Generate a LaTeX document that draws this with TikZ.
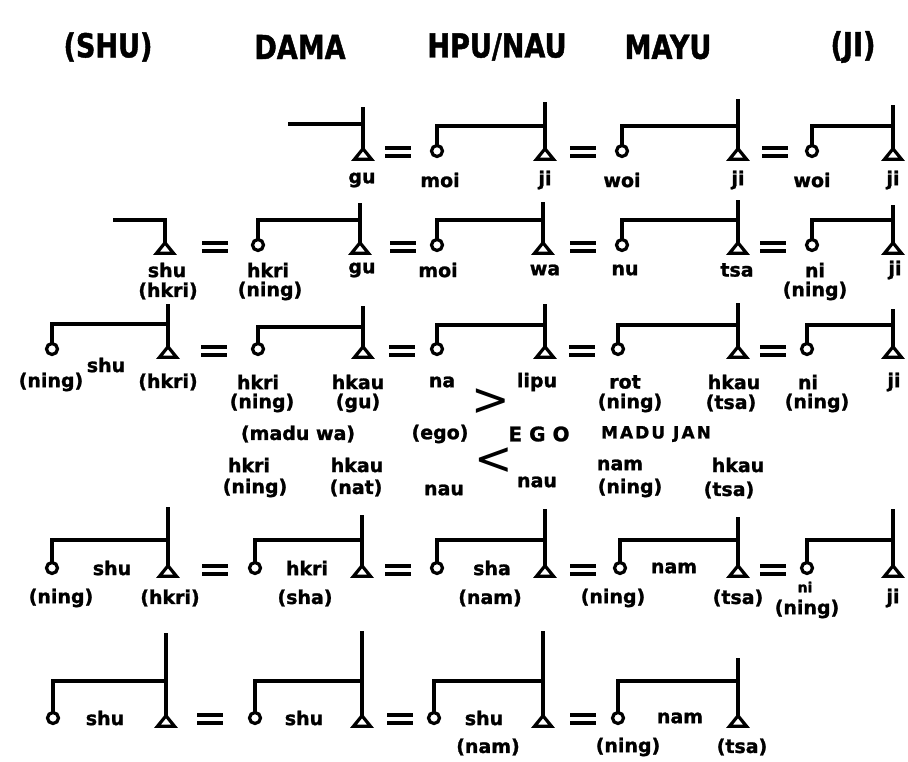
\documentclass[tikz,border=0pt]{standalone}
\usepackage{fontspec}
\setmainfont{DejaVu Sans}[BoldFeatures={FakeBold=1.3}]
\newfontfamily\headfont{DejaVu Sans}[FakeStretch=0.82,BoldFeatures={FakeBold=1.3}]
\newfontfamily\symfont{DejaVu Sans}[BoldFeatures={FakeBold=1.2}]
\usetikzlibrary{shapes.geometric}
\begin{document}
\begin{tikzpicture}[x=1pt,y=-1pt,
  fem/.style={circle,draw,line width=3.2pt,minimum size=11pt,inner sep=0pt,outer sep=0pt},
  male/.style={rectangle,minimum width=17pt,minimum height=10.5pt,inner sep=0pt,outer sep=0pt,
    append after command={\pgfextra{\draw[line width=3.2pt,line join=miter]
      (\tikzlastnode.north) -- (\tikzlastnode.south east) -- (\tikzlastnode.south west) -- cycle;}}},
  lab/.style={font=\fontsize{19}{19}\selectfont\bfseries,inner sep=0pt},
  tiny/.style={font=\fontsize{14}{14}\selectfont\bfseries,inner sep=0pt},
  head/.style={font=\headfont\fontsize{33}{33}\selectfont\bfseries,inner sep=0pt},
  link/.style={line width=3.3pt},
  eq/.pic={\draw[line width=3.6pt] (-13,-3.8)--(13,-3.8) (-13,3.8)--(13,3.8);},
  angl/.style={font=\symfont\fontsize{46}{46}\selectfont,inner sep=0pt},
  capl/.style={font=\symfont\bfseries\fontsize{17}{17}\selectfont\addfontfeature{LetterSpace=12},inner sep=0pt},
  egol/.style={font=\symfont\bfseries\fontsize{20}{20}\selectfont\addfontfeature{LetterSpace=35},inner sep=0pt},
]
\useasboundingbox (0,0) rectangle (908,762);
% header
\node[head] (h1) at (108,47) {(SHU)};
\node[head] (h2) at (300,47) {DAMA};
\node[head] (h3) at (497,47) {HPU/NAU};
\node[head] (h4) at (668,47) {MAYU};
\node[head] (h5) at (853,47) {(JI)};

% ---------- row 1
\node[male] (a1) at (363,154) {};
\node[fem]  (a2) at (437,151) {};
\node[male] (a3) at (545,154) {};
\node[fem]  (a4) at (622,151) {};
\node[male] (a5) at (738,154) {};
\node[fem]  (a6) at (812,151) {};
\node[male] (a7) at (893,154) {};
\coordinate (a0) at (288,124);
\draw[link] (a0) -- (a0 -| a1.north);
\draw[link] (a1.north) -- (a1.north |- 0,107);
\draw[link] (a2.north) |- (a3.north |- 0,126);
\draw[link] (a3.north) -- (a3.north |- 0,102);
\draw[link] (a4.north) |- (a5.north |- 0,126);
\draw[link] (a5.north) -- (a5.north |- 0,99);
\draw[link] (a6.north) |- (a7.north |- 0,126);
\draw[link] (a7.north) -- (a7.north |- 0,105);
\pic at (398,152) {eq};
\pic at (583,152) {eq};
\pic at (775,152) {eq};
\node[lab] (la1) at (362,180) {gu};
\node[lab] (la2) at (440,180) {moi};
\node[lab] (la3) at (545,180) {ji};
\node[lab] (la4) at (622,180) {woi};
\node[lab] (la5) at (738,180) {ji};
\node[lab] (la6) at (812,180) {woi};
\node[lab] (la7) at (893,180) {ji};

% ---------- row 2
\node[male] (b1) at (165,248) {};
\node[fem]  (b2) at (258,245) {};
\node[male] (b3) at (360,248) {};
\node[fem]  (b4) at (437,245) {};
\node[male] (b5) at (543,248) {};
\node[fem]  (b6) at (622,245) {};
\node[male] (b7) at (738,248) {};
\node[fem]  (b8) at (812,245) {};
\node[male] (b9) at (893,248) {};
\coordinate (b0) at (113,220);
\draw[link] (b0) -| (b1.north);
\draw[link] (b2.north) |- (b3.north |- 0,220);
\draw[link] (b3.north) -- (b3.north |- 0,203);
\draw[link] (b4.north) |- (b5.north |- 0,220);
\draw[link] (b5.north) -- (b5.north |- 0,202);
\draw[link] (b6.north) |- (b7.north |- 0,220);
\draw[link] (b7.north) -- (b7.north |- 0,200);
\draw[link] (b8.north) |- (b9.north |- 0,220);
\draw[link] (b9.north) -- (b9.north |- 0,205);
\pic at (215,247) {eq};
\pic at (403,247) {eq};
\pic at (583,247) {eq};
\pic at (773,247) {eq};
\node[lab] (lb1) at (167,270) {shu};
\node[lab] (lb2) at (268,270) {hkri};
\node[lab] (lb3) at (362,270) {gu};
\node[lab] (lb4) at (438,270) {moi};
\node[lab] (lb5) at (545,270) {wa};
\node[lab] (lb6) at (625,270) {nu};
\node[lab] (lb7) at (737,270) {tsa};
\node[lab] (lb8) at (815,270) {ni};
\node[lab] (lb9) at (895,270) {ji};
\node[lab] (lb10) at (168,291) {(hkri)};
\node[lab] (lb11) at (270,291) {(ning)};
\node[lab] (lb12) at (815,291) {(ning)};

% ---------- row 3
\node[fem]  (c1) at (52,349) {};
\node[male] (c2) at (168,352) {};
\node[fem]  (c3) at (258,349) {};
\node[male] (c4) at (363,352) {};
\node[fem]  (c5) at (437,349) {};
\node[male] (c6) at (545,352) {};
\node[fem]  (c7) at (618,349) {};
\node[male] (c8) at (738,352) {};
\node[fem]  (c9) at (807,349) {};
\node[male] (c10) at (893,352) {};
\draw[link] (c1.north) |- (c2.north |- 0,324);
\draw[link] (c2.north) -- (c2.north |- 0,304);
\draw[link] (c3.north) |- (c4.north |- 0,327);
\draw[link] (c4.north) -- (c4.north |- 0,306);
\draw[link] (c5.north) |- (c6.north |- 0,325);
\draw[link] (c6.north) -- (c6.north |- 0,304);
\draw[link] (c7.north) |- (c8.north |- 0,325);
\draw[link] (c8.north) -- (c8.north |- 0,303);
\draw[link] (c9.north) |- (c10.north |- 0,325);
\draw[link] (c10.north) -- (c10.north |- 0,309);
\pic at (214,351) {eq};
\pic at (402,351) {eq};
\pic at (582,351) {eq};
\pic at (773,351) {eq};
\node[lab] (lc1) at (51,382) {(ning)};
\node[lab] (lc2) at (106,365) {shu};
\node[lab] (lc3) at (168,382) {(hkri)};
\node[lab] (lc4) at (258,382) {hkri};
\node[lab] (lc5) at (358,382) {hkau};
\node[lab] (lc6) at (442,382) {na};
\node[lab] (lc7) at (537,382) {lipu};
\node[lab] (lc8) at (625,382) {rot};
\node[lab] (lc9) at (734,382) {hkau};
\node[lab] (lc10) at (808,382) {ni};
\node[lab] (lc11) at (894,382) {ji};
\node[lab] (lc12) at (262,403) {(ning)};
\node[lab] (lc13) at (358,403) {(gu)};
\node[lab] (lc14) at (630,403) {(ning)};
\node[lab] (lc15) at (731,403) {(tsa)};
\node[lab] (lc16) at (817,403) {(ning)};

% ---------- middle
\node[angl] (gt) at (491,402) {>};
\node[lab] (m1) at (298,434) {(madu wa)};
\node[lab] (m2) at (440,434) {(ego)};
\node[egol] (m3) at (539,434) {EGO};
\node[capl] (m4) at (656,434) {MADU JAN};
\node[angl] (lt) at (494,461) {<};
\node[lab] (m5) at (249,465) {hkri};
\node[lab] (m6) at (255,488) {(ning)};
\node[lab] (m7) at (357,465) {hkau};
\node[lab] (m8) at (356,488) {(nat)};
\node[lab] (m9) at (444,490) {nau};
\node[lab] (m10) at (537,482) {nau};
\node[lab] (m11) at (620,465) {nam};
\node[lab] (m12) at (630,488) {(ning)};
\node[lab] (m13) at (738,465) {hkau};
\node[lab] (m14) at (729,490) {(tsa)};

% ---------- row 4
\node[fem]  (d1) at (52,568) {};
\node[male] (d2) at (168,571) {};
\node[fem]  (d3) at (255,568) {};
\node[male] (d4) at (362,571) {};
\node[fem]  (d5) at (437,568) {};
\node[male] (d6) at (545,571) {};
\node[fem]  (d7) at (620,568) {};
\node[male] (d8) at (738,571) {};
\node[fem]  (d9) at (807,568) {};
\node[male] (d10) at (893,571) {};
\draw[link] (d1.north) |- (d2.north |- 0,540);
\draw[link] (d2.north) -- (d2.north |- 0,507);
\draw[link] (d3.north) |- (d4.north |- 0,540);
\draw[link] (d4.north) -- (d4.north |- 0,515);
\draw[link] (d5.north) |- (d6.north |- 0,540);
\draw[link] (d6.north) -- (d6.north |- 0,509);
\draw[link] (d7.north) |- (d8.north |- 0,540);
\draw[link] (d8.north) -- (d8.north |- 0,517);
\draw[link] (d9.north) |- (d10.north |- 0,540);
\draw[link] (d10.north) -- (d10.north |- 0,509);
\pic at (215,570) {eq};
\pic at (398,570) {eq};
\pic at (583,570) {eq};
\pic at (773,570) {eq};
\node[lab] (ld1) at (112,568) {shu};
\node[lab] (ld2) at (307,568) {hkri};
\node[lab] (ld3) at (492,568) {sha};
\node[lab] (ld4) at (674,568) {nam};
\node[lab] (ld5) at (61,598) {(ning)};
\node[lab] (ld6) at (170,598) {(hkri)};
\node[lab] (ld7) at (305,598) {(sha)};
\node[lab] (ld8) at (490,598) {(nam)};
\node[lab] (ld9) at (613,598) {(ning)};
\node[lab] (ld10) at (738,598) {(tsa)};
\node[tiny] (ld11) at (805,587) {ni};
\node[lab] (ld12) at (807,609) {(ning)};
\node[lab] (ld13) at (893,598) {ji};

% ---------- row 5
\node[fem]  (e1) at (53,718) {};
\node[male] (e2) at (166,721) {};
\node[fem]  (e3) at (255,718) {};
\node[male] (e4) at (362,721) {};
\node[fem]  (e5) at (434,718) {};
\node[male] (e6) at (543,721) {};
\node[fem]  (e7) at (618,718) {};
\node[male] (e8) at (738,721) {};
\draw[link] (e1.north) |- (e2.north |- 0,681);
\draw[link] (e2.north) -- (e2.north |- 0,633);
\draw[link] (e3.north) |- (e4.north |- 0,681);
\draw[link] (e4.north) -- (e4.north |- 0,631);
\draw[link] (e5.north) |- (e6.north |- 0,681);
\draw[link] (e6.north) -- (e6.north |- 0,631);
\draw[link] (e7.north) |- (e8.north |- 0,681);
\draw[link] (e8.north) -- (e8.north |- 0,658);
\pic at (210,719) {eq};
\pic at (400,719) {eq};
\pic at (583,719) {eq};
\node[lab] (le1) at (105,718) {shu};
\node[lab] (le2) at (304,718) {shu};
\node[lab] (le3) at (484,718) {shu};
\node[lab] (le4) at (680,718) {nam};
\node[lab] (le5) at (488,747) {(nam)};
\node[lab] (le6) at (628,747) {(ning)};
\node[lab] (le7) at (742,747) {(tsa)};
\end{tikzpicture}
\end{document}
